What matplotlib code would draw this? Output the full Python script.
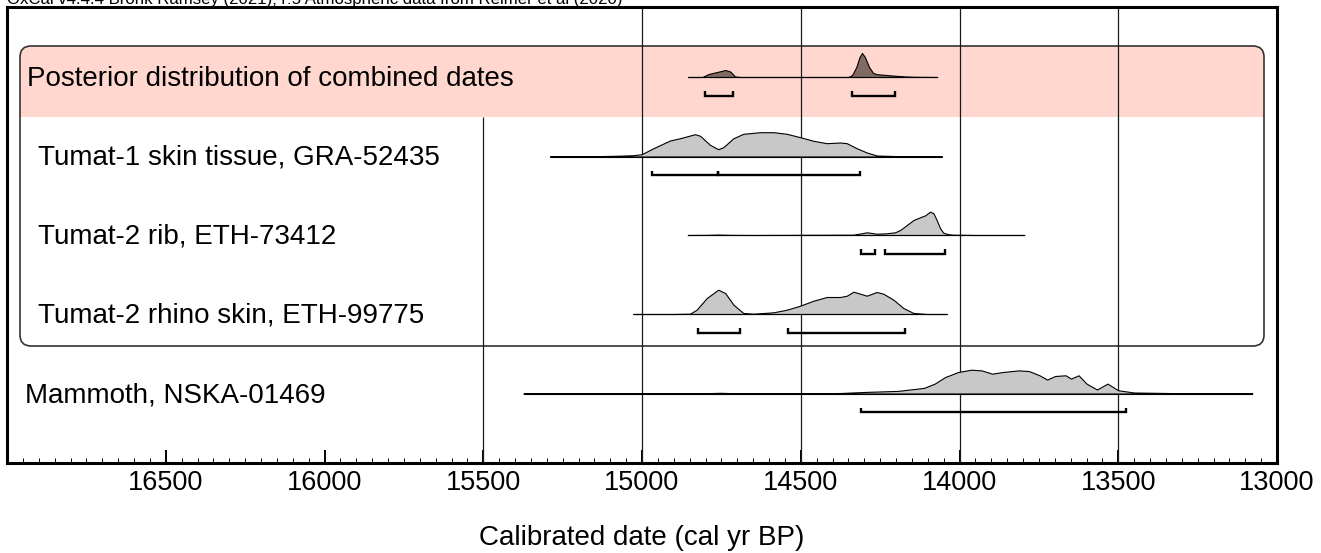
#!/usr/bin/env python3
"""
OxCal-style multiplot of calibrated radiocarbon dates (Tumat samples).
"""
import matplotlib
matplotlib.use("Agg")
import matplotlib.pyplot as plt
from matplotlib.patches import FancyBboxPatch, Rectangle
from matplotlib.ticker import MultipleLocator, FixedLocator

plt.rcParams["font.family"] = ["Liberation Sans", "DejaVu Sans"]

header = "OxCal v4.4.4 Bronk Ramsey (2021); r:5 Atmospheric data from Reimer et al (2020)"
labels = [
    "Posterior distribution of combined dates",
    "Tumat-1 skin tissue, GRA-52435",
    "Tumat-2 rib, ETH-73412",
    "Tumat-2 rhino skin, ETH-99775",
    "Mammoth, NSKA-01469",
]

# probability curves (cal BP, relative height)
combined_dates = [14855, 14810, 14790, 14770, 14750, 14738, 14722, 14707, 14690,
                  14350, 14338, 14325, 14315, 14307, 14298, 14285, 14272, 14260,
                  14230, 14200, 14170, 14140, 14070]
combined_prob = [0, 0, 3, 4.5, 6, 7, 5.5, 0.5, 0,
                 0, 2, 10, 20, 24, 20, 10, 4, 2.8,
                 2, 1.2, 0.5, 0.2, 0]

tumat1_dates = [15290, 15200, 15132, 15060, 15027, 15001, 14964, 14912, 14880,
                14833, 14817, 14786, 14760, 14744, 14712, 14681, 14628, 14586,
                14544, 14502, 14460, 14418, 14376, 14355, 14324, 14292, 14261,
                14187, 14055]
tumat1_prob = [0, 0.2, 0.4, 0.9, 1.3, 2.3, 8.3, 16, 18.3,
               22.3, 20.7, 11.7, 7.3, 9.3, 18.3, 22.7, 24.3, 24.3,
               22.7, 19.3, 15.7, 13.3, 14, 13.3, 8.3, 4, 1,
               0.3, 0]

rib_dates = [14856, 14800, 14760, 14720, 14650, 14334, 14303, 14292, 14276,
             14261, 14229, 14203, 14187, 14166, 14145, 14124, 14108, 14093,
             14082, 14072, 14061, 14051, 14035, 14019, 13950, 13796]
rib_prob = [0, 0.1, 0.4, 0.1, 0, 0.3, 2, 2.7, 2,
            1.3, 1.7, 2.7, 5, 10, 15, 17.7, 19.7, 23.3,
            21.7, 15, 6.7, 2.3, 0.7, 0.3, 0, 0]

rhino_dates = [15027, 14900, 14849, 14828, 14796, 14760, 14738, 14712, 14681,
               14649, 14586, 14544, 14502, 14460, 14418, 14376, 14355, 14334,
               14313, 14292, 14261, 14240, 14208, 14177, 14145, 14103, 14040]
rhino_prob = [0, 0, 0.3, 4.3, 16, 24.3, 21, 9.3, 1,
              0.3, 1.7, 4.3, 8.3, 13.3, 17, 17, 18.3, 22.3,
              20.3, 18.3, 22, 20.3, 14.3, 6, 1, 0, 0]

mammoth_dates = [15373, 14850, 14790, 14754, 14720, 14650, 14500, 14376, 14293,
                 14194, 14112, 14078, 14045, 14004, 13963, 13930, 13897, 13864,
                 13814, 13781, 13748, 13724, 13699, 13666, 13649, 13625, 13600,
                 13567, 13534, 13501, 13451, 13303, 13200, 13078]
mammoth_prob = [0, 0, 0.4, 0.7, 0.4, 0.1, 0.2, 0.5, 1.6,
                2.6, 5.6, 9.9, 16.5, 21.5, 23.8, 23.1, 19.8, 21.5,
                23.1, 22.4, 18.2, 13.9, 17.5, 18.2, 14.9, 18.2, 9.9,
                4, 9.9, 3.3, 1, 0.3, 0, 0]

# 95.4% ranges (from, to) in cal BP
combined_ranges = [(14801, 14713), (14338, 14203)]
tumat1_ranges = [(14970, 14760), (14760, 14313)]
rib_ranges = [(14310, 14265), (14234, 14045)]
rhino_ranges = [(14825, 14691), (14539, 14171)]
mammoth_ranges = [(14309, 13476)]

W, H = 1321, 553


def draw_row(ax, dates, prob, ranges, base, color):
    ax.fill_between(dates, base, [base - p for p in prob], facecolor=color,
                    edgecolor="black", linewidth=0.8, zorder=3)
    ax.hlines(base, min(dates), max(dates), color="black", linewidth=0.8, zorder=4)
    yb = base + 18.5
    for a, b in ranges:
        ax.plot([a, a, b, b], [yb - 4.5, yb, yb, yb - 4.5], color="black",
                linewidth=1.7, solid_joinstyle="miter", solid_capstyle="butt", zorder=4)


def main():
    fig = plt.figure(figsize=(W / 100, H / 100), dpi=100)

    # pixel overlay for the rounded group box
    ov = fig.add_axes([0, 0, 1, 1], zorder=0)
    ov.set_xlim(0, W)
    ov.set_ylim(H, 0)
    ov.axis("off")
    box = FancyBboxPatch((20, 46), 1244, 300, boxstyle="round,pad=0,rounding_size=11",
                         facecolor="none", edgecolor="#333333", linewidth=1.2, zorder=2)
    ov.add_patch(box)
    band = Rectangle((20, 46), 1244, 71, facecolor="#ffd7cf", edgecolor="none", zorder=1)
    ov.add_patch(band)
    band.set_clip_path(box)

    ax = fig.add_axes([7 / W, (H - 463) / H, 1270 / W, (463 - 6.5) / H], zorder=1)
    ax.patch.set_alpha(0)
    ax.set_xlim(17000, 13000)
    ax.set_ylim(463, 6.5)

    ax.vlines([15000, 14500, 14000, 13500], 6.5, 463, color="#1a1a1a", linewidth=0.9, zorder=2)
    ax.vlines(15500, 117, 463, color="#1a1a1a", linewidth=0.9, zorder=2)

    bases = [77, 156.5, 235, 314, 393.5]
    draw_row(ax, combined_dates, combined_prob, combined_ranges, bases[0], "#806a64")
    draw_row(ax, tumat1_dates, tumat1_prob, tumat1_ranges, bases[1], "#c8c8c8")
    draw_row(ax, rib_dates, rib_prob, rib_ranges, bases[2], "#c8c8c8")
    draw_row(ax, rhino_dates, rhino_prob, rhino_ranges, bases[3], "#c8c8c8")
    draw_row(ax, mammoth_dates, mammoth_prob, mammoth_ranges, bases[4], "#c8c8c8")

    label_x = [27, 38, 38, 38, 25]
    for text, lx, base in zip(labels, label_x, bases):
        ov.text(lx, base + 8.5, text, fontsize=20, va="baseline", ha="left", zorder=5)

    # header sits at the very top edge, partly cut off as in the OxCal export
    fig.text(7 / W, 1 - 4 / H, header, fontsize=12.1, va="baseline", ha="left")

    for side in ["left", "right", "top", "bottom"]:
        ax.spines[side].set_linewidth(2.2)
    ax.set_yticks([])
    ax.xaxis.set_major_locator(FixedLocator(list(range(13000, 17001, 500))))
    ax.xaxis.set_minor_locator(MultipleLocator(50))
    ax.tick_params(axis="x", which="major", direction="in", length=9.4, width=1.4,
                   labelsize=19.5, pad=5)
    ax.tick_params(axis="x", which="minor", direction="in", length=3.6, width=0.7)
    ax.set_xticklabels(["13000", "13500", "14000", "14500", "15000", "15500",
                        "16000", "16500", ""])
    ax.set_xlabel("Calibrated date (cal yr BP)", fontsize=20)
    ax.xaxis.label.set_va("baseline")
    ax.xaxis.set_label_coords(0.5, -(545 - 463) / (463 - 6.5))

    fig.savefig("out.png", dpi=100)
    plt.close(fig)


if __name__ == "__main__":
    main()
